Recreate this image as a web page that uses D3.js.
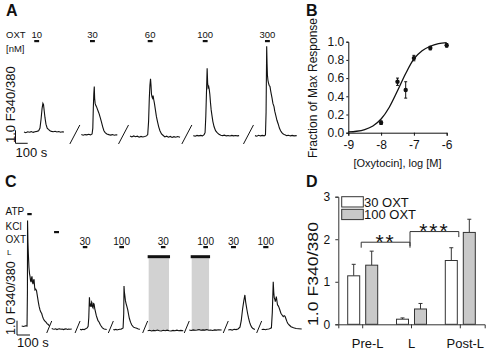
<!DOCTYPE html>
<html>
<head>
<meta charset="utf-8">
<script src="https://cdn.jsdelivr.net/npm/d3@7"></script>
<style>
  body { margin: 0; background: #fff; }
  svg { display: block; font-family: "Liberation Sans", Arial, sans-serif; }
</style>
</head>
<body>
<svg id="fig" width="490" height="351"></svg>
<script>
// ---------- data ----------
// A: calcium traces, [s from segment start, F340/380]
const concA = ["10", "30", "60", "100", "300"];
const segStartA = [0, 470, 869, 1388, 1893];
const stimStartA = [84, 71, 145, 77, 82];
const traceA = [
  [[0,1.0],[15,0.95],[30,1.02],[45,0.98],[60,1.03],[75,0.97],[90,1.02],[105,1.05],[120,1.1],[131,1.3],[140,2.0],[148,2.8],[155,3.2],[160,3.1],[166,2.6],[172,2.1],[180,1.6],[190,1.3],[200,1.2],[213,1.1],[225,1.05],[240,1.02],[255,1.06],[270,1.0],[285,1.04],[300,0.98],[315,1.02],[328,1.0]],
  [[0,0.8],[15,0.75],[30,0.8],[45,0.78],[60,0.82],[75,0.78],[88,0.85],[94,1.3],[98,2.8],[102,3.9],[106,4.5],[109,3.6],[113,3.2],[118,3.05],[124,2.95],[130,2.8],[138,2.6],[146,2.4],[155,2.1],[164,1.8],[175,1.4],[185,1.1],[195,0.95],[209,0.85],[225,0.8],[240,0.76],[255,0.8],[270,0.75],[285,0.79],[295,0.77]],
  [[0,0.7],[15,0.62],[30,0.7],[45,0.64],[60,0.68],[75,0.6],[90,0.66],[105,0.62],[120,0.65],[135,0.7],[145,0.8],[152,1.8],[158,3.6],[163,4.6],[168,5.1],[172,4.6],[176,3.9],[180,3.7],[184,3.6],[189,3.8],[194,3.5],[200,3.2],[208,2.7],[216,2.2],[225,1.8],[235,1.4],[245,1.1],[258,0.85],[270,0.75],[285,0.62],[300,0.68],[315,0.6],[330,0.66],[345,0.58],[360,0.64],[375,0.6],[390,0.65],[410,0.6]],
  [[0,0.72],[15,0.68],[30,0.74],[45,0.7],[60,0.74],[75,0.7],[88,0.8],[96,0.95],[102,2.2],[108,4.2],[113,5.9],[117,4.8],[121,4.4],[126,4.5],[130,4.3],[135,3.9],[140,3.3],[146,2.7],[152,2.3],[160,1.8],[170,1.4],[182,1.1],[195,0.95],[210,0.82],[225,0.75],[240,0.72],[255,0.76],[270,0.7],[285,0.73],[300,0.69],[315,0.74],[330,0.7],[345,0.73],[360,0.7],[375,0.72]],
  [[0,0.72],[15,0.68],[30,0.75],[45,0.7],[60,0.74],[75,0.7],[86,0.78],[91,2.5],[96,7.6],[99,6.3],[102,5.4],[106,5.0],[110,4.8],[116,4.6],[123,4.5],[128,4.2],[134,3.9],[140,3.6],[147,3.2],[156,2.95],[162,2.6],[170,2.3],[180,1.9],[191,1.6],[200,1.3],[210,1.1],[220,0.95],[232,0.85],[245,0.78],[260,0.72],[275,0.75],[290,0.7],[305,0.74],[320,0.7],[342,0.72]]
];

// B: dose response
const logConc = [-8, -7.5, -7.25, -7, -6.5, -6];
const fracMax = [0.11, 0.56, 0.47, 0.82, 0.93, 0.96];
const fracErr = [0.02, 0.04, 0.09, 0.03, 0.02, 0.02];
const fitX = [-9, -8.75, -8.5, -8.25, -8, -7.75, -7.5, -7.25, -7, -6.75, -6.5, -6.25, -6];
const fitY = [0.008, 0.016, 0.035, 0.074, 0.15, 0.28, 0.46, 0.65, 0.81, 0.90, 0.95, 0.978, 0.99];

// C: sequential protocol
const segStartC = [0, 231, 449, 705, 969, 1289, 1589, 1846];
const traceC = [
  [[0,0.63],[15,0.6],[30,0.65],[41,0.63],[44,3],[45,8.0],[48,6.5],[51,5.7],[56,4.7],[60,4.3],[64,4.1],[68,3.8],[72,3.7],[76,4.0],[79,4.1],[83,3.7],[87,3.55],[91,3.8],[95,3.9],[99,3.4],[102,3.15],[108,3.2],[114,3.1],[121,2.7],[128,2.3],[134,2.0],[141,1.75],[147,1.6],[154,1.5],[160,1.3],[166,1.15],[175,1.0],[187,0.9],[195,0.8],[202,0.75],[214,0.63]],
  [[0,0.45],[10,0.42],[20,0.4],[30,0.43],[40,0.38],[50,0.42],[60,0.44],[70,0.4],[80,0.42],[90,0.38],[100,0.41],[110,0.43],[120,0.39],[130,0.42],[140,0.4],[154,0.42]],
  [[0,0.4],[10,0.36],[20,0.4],[31,0.38],[40,0.42],[46,0.45],[55,0.5],[62,0.6],[67,1.2],[72,2.64],[77,2.0],[81,2.1],[85,1.96],[89,2.3],[92,2.24],[96,1.95],[100,1.89],[104,2.2],[108,2.17],[113,1.85],[119,1.6],[125,1.35],[131,1.19],[138,1.0],[146,0.91],[154,0.75],[162,0.63],[172,0.5],[185,0.42],[195,0.4],[205,0.38]],
  [[0,0.38],[10,0.36],[20,0.4],[28,0.35],[40,0.38],[50,0.4],[59,0.4],[68,0.45],[75,0.5],[80,1.5],[82,3.43],[85,3.0],[88,2.8],[93,2.4],[98,2.2],[104,2.0],[111,1.75],[117,1.45],[123,1.17],[132,0.9],[142,0.7],[155,0.55],[168,0.5],[180,0.47],[192,0.42],[205,0.4]],
  [[0,0.3],[15,0.33],[30,0.28],[45,0.32],[60,0.3],[75,0.35],[90,0.3],[105,0.28],[120,0.33],[135,0.3],[150,0.34],[165,0.3],[180,0.28],[195,0.32],[210,0.3],[225,0.34],[240,0.3],[255,0.32],[274,0.3]],
  [[0,0.35],[15,0.32],[30,0.36],[45,0.33],[60,0.35],[75,0.38],[90,0.33],[105,0.36],[120,0.34],[135,0.38],[150,0.33],[165,0.35],[180,0.32],[195,0.36],[210,0.34],[225,0.37],[249,0.35]],
  [[0,0.35],[15,0.38],[30,0.34],[45,0.4],[60,0.38],[75,0.42],[90,0.55],[100,1.0],[110,1.8],[120,2.4],[128,2.8],[134,2.3],[144,1.75],[150,1.45],[156,1.19],[164,0.9],[172,0.7],[180,0.55],[190,0.45],[205,0.38]],
  [[0,0.38],[15,0.4],[30,0.37],[40,0.4],[55,0.42],[65,0.45],[75,0.5],[82,1.6],[89,3.73],[93,3.0],[97,2.6],[101,2.5],[105,2.33],[109,2.5],[113,2.68],[117,2.4],[122,2.1],[127,2.05],[131,1.98],[140,1.75],[148,1.52],[157,1.4],[166,1.28],[173,1.35],[180,1.3],[188,1.1],[194,0.95],[200,0.82],[212,0.7],[226,0.58],[245,0.5],[265,0.45],[285,0.44],[308,0.42]]
];
const stimRowsC = ["ATP", "KCl", "OXT", "L"];
const stimRowC = ["ATP", "KCl", "OXT", "OXT", "OXT", "OXT", "OXT", "OXT", "L", "L"];
const stimSegC = [0, 1, 2, 3, 4, 5, 6, 7, 4, 5];
const stimStartC = [43, 18, 21, 46, 102, 108, 21, 12, 0, 11];
const stimDurC = [34, 38, 35, 36, 35, 36, 38, 40, 172, 149];
const stimLabelC = ["", "", "30", "100", "30", "100", "30", "100", "", ""];

// D: summary bars
const groupsD = ["Pre-L", "L", "Post-L"];
const seriesD = ["30 OXT", "100 OXT"];
const resp30 = [1.14, 0.12, 1.5];
const resp100 = [1.39, 0.36, 2.16];
const err30 = [0.27, 0.03, 0.3];
const err100 = [0.33, 0.13, 0.31];
const sigPairs = [["Pre-L", "L"], ["L", "Post-L"]];
const sigLevel = [1.93, 2.18];
const sigText = ["**", "***"];

// ---------- drawing ----------
const svg = d3.select("#fig");
const ink = "#111";

function panelLetter(t, x, y) {
  svg.append("text").attr("x", x).attr("y", y).text(t)
    .style("font-size", "16px").style("font-weight", "bold").attr("fill", ink);
}
function smallText(g, t, x, y, size, anchor) {
  return g.append("text").attr("x", x).attr("y", y).text(t)
    .attr("text-anchor", anchor || "start").style("font-size", size + "px").attr("fill", ink);
}
function scaleBar(g, x, yb, h, w, label, labelY) {
  g.append("path").attr("d", `M${x},${yb - h}V${yb}H${x + w}`)
    .attr("fill", "none").attr("stroke", ink).attr("stroke-width", 1);
  smallText(g, label, x, labelY, 13);
}

// Panel A
panelLetter("A", 6, 16);
const gA = svg.append("g");
const xA = d3.scaleLinear().domain([0, 2235]).range([24, 296.7]);
const yA = d3.scaleLinear().domain([0, 8]).range([145, 41]);
const stimDurA = 40;

traceA.forEach((seg, i) => {
  const t0 = segStartA[i];
  gA.append("path").datum(seg)
    .attr("d", d3.line().x(d => xA(t0 + d[0])).y(d => yA(d[1])))
    .attr("fill", "none").attr("stroke", ink).attr("stroke-width", 1.1);
  if (i > 0) {
    const cx = xA(t0) - 6.5, cy = yA(0.81);
    gA.append("line").attr("x1", cx - 5).attr("y1", cy + 9.5).attr("x2", cx + 5).attr("y2", cy - 9.5)
      .attr("stroke", ink).attr("stroke-width", 1);
  }
  const bx = xA(t0 + stimStartA[i]), bw = xA(stimDurA) - xA(0);
  gA.append("rect").attr("x", bx).attr("y", 40).attr("width", bw).attr("height", 2.2).attr("fill", ink);
  smallText(gA, concA[i], bx + bw / 2, 37.5, 9.5, "middle");
});
smallText(gA, "OXT", 6, 37.5, 9.5);
smallText(gA, "[nM]", 6, 52, 9.5);
scaleBar(gA, 15.5, 143.3, yA(0) - yA(1), xA(100) - xA(0), "100 s", 157);
gA.append("text").attr("transform", "translate(15,143) rotate(-90)").text("1.0 F340/380")
  .style("font-size", "13px").attr("fill", ink);

// Panel B
panelLetter("B", 306, 16);
const gB = svg.append("g");
const xB = d3.scaleLinear().domain([-9, -6]).range([348.3, 446.7]);
const yB = d3.scaleLinear().domain([0, 1]).range([132.7, 41.7]);
gB.append("g").attr("transform", "translate(0,132.7)")
  .call(d3.axisBottom(xB).tickValues([-9, -8, -7, -6]).tickFormat(d => d).tickSizeOuter(0).tickSize(3).tickPadding(5))
  .call(g => g.selectAll("text").style("font-size", "12px").attr("fill", ink))
  .call(g => g.selectAll("line,path").attr("stroke", ink));
gB.append("g").attr("transform", "translate(348.3,0)")
  .call(d3.axisLeft(yB).ticks(5).tickFormat(d3.format(".1f")).tickSizeOuter(0).tickSize(2).tickPadding(2))
  .call(g => g.selectAll("text").style("font-size", "12px").attr("fill", ink))
  .call(g => g.selectAll("line,path").attr("stroke", ink));
gB.append("path").datum(d3.zip(fitX, fitY))
  .attr("d", d3.line().x(d => xB(d[0])).y(d => yB(d[1])).curve(d3.curveMonotoneX))
  .attr("fill", "none").attr("stroke", ink).attr("stroke-width", 1.3);
logConc.forEach((c, i) => {
  const x = xB(c);
  gB.append("path")
    .attr("d", `M${x - 1.5},${yB(fracMax[i] + fracErr[i])}H${x + 1.5}M${x},${yB(fracMax[i] + fracErr[i])}V${yB(fracMax[i] - fracErr[i])}M${x - 1.5},${yB(fracMax[i] - fracErr[i])}H${x + 1.5}`)
    .attr("stroke", ink).attr("stroke-width", 1).attr("fill", "none");
  gB.append("circle").attr("cx", x).attr("cy", yB(fracMax[i])).attr("r", 2.2).attr("fill", ink);
});
smallText(gB, "[Oxytocin], log [M]", xB(-7.5), 167, 11, "middle");
gB.append("text").attr("transform", "translate(317,88) rotate(-90)").attr("text-anchor", "middle")
  .text("Fraction of Max Response").style("font-size", "12px").attr("fill", ink);

// Panel C
panelLetter("C", 5, 187);
const gC = svg.append("g");
const xC = d3.scaleLinear().domain([0, 2154]).range([21.7, 301.7]);
const yC = d3.scaleLinear().domain([0, 8]).range([335, 220.6]);
const rowY = { ATP: 213, KCl: 231, OXT: 246, L: 255.2 };
const rowTextY = { ATP: 215, KCl: 229.5, OXT: 243, L: 255 };

// gray shading for L applications first
stimRowC.forEach((r, i) => {
  if (r !== "L") return;
  const x0 = xC(segStartC[stimSegC[i]] + stimStartC[i]);
  const x1 = xC(segStartC[stimSegC[i]] + stimStartC[i] + stimDurC[i]);
  gC.append("rect").attr("x", x0 + 1).attr("y", rowY.L + 3).attr("width", x1 - x0 - 2)
    .attr("height", yC(0.3) - rowY.L - 3).attr("fill", "#d2d2d2");
});
traceC.forEach((seg, i) => {
  const t0 = segStartC[i];
  gC.append("path").datum(seg)
    .attr("d", d3.line().x(d => xC(t0 + d[0])).y(d => yC(d[1])))
    .attr("fill", "none").attr("stroke", ink).attr("stroke-width", 1.1);
  if (i > 0) {
    const cx = xC(t0) - 2.5, cy = yC(0.56);
    gC.append("line").attr("x1", cx - 2.5).attr("y1", cy + 6).attr("x2", cx + 2.5).attr("y2", cy - 6)
      .attr("stroke", ink).attr("stroke-width", 1);
  }
});
stimRowC.forEach((r, i) => {
  const x0 = xC(segStartC[stimSegC[i]] + stimStartC[i]);
  const w = xC(stimDurC[i]) - xC(0);
  gC.append("rect").attr("x", x0).attr("y", rowY[r]).attr("width", w)
    .attr("height", r === "L" ? 3 : 2.2).attr("fill", ink);
  if (stimLabelC[i]) smallText(gC, stimLabelC[i], x0 + w / 2, 244.5, 10, "middle");
});
stimRowsC.forEach(r => smallText(gC, r, r === "L" ? 7 : 5.5, rowTextY[r], r === "L" ? 8 : 10));
scaleBar(gC, 17, 335, yC(0) - yC(1), xC(100) - xC(0), "100 s", 346.5);
gC.append("text").attr("transform", "translate(15,335) rotate(-90)").text("1.0 F340/380")
  .style("font-size", "12.5px").attr("fill", ink);

// Panel D
panelLetter("D", 306, 187);
const gD = svg.append("g");
const xD = d3.scaleBand().domain(groupsD).range([338.3, 484.7]);
const xSub = d3.scaleBand().domain(seriesD).range([-15, 15]).paddingInner(0.333);
const yD = d3.scaleLinear().domain([0, 3]).range([324.3, 196.7]);
const fillD = d3.scaleOrdinal().domain(seriesD).range(["#ffffff", "#c9c9c9"]);
const valD = { "30 OXT": resp30, "100 OXT": resp100 };
const errD = { "30 OXT": err30, "100 OXT": err100 };
const barStroke = "#333";

gD.append("g").attr("transform", "translate(0,324.3)")
  .call(d3.axisBottom(xD).tickSizeOuter(0).tickSize(4).tickPadding(10))
  .call(g => g.selectAll("text").style("font-size", "13px").attr("fill", ink).attr("dx", d => d === "L" ? 0 : 5))
  .call(g => g.selectAll("line,path").attr("stroke", barStroke));
gD.append("g").attr("transform", "translate(338.3,0)")
  .call(d3.axisLeft(yD).tickValues([0, 1, 2, 3]).tickFormat(d3.format("d")).tickSizeOuter(0).tickSize(3).tickPadding(5))
  .call(g => g.selectAll("text").style("font-size", "12px").attr("fill", ink))
  .call(g => g.selectAll("line,path").attr("stroke", barStroke));

groupsD.forEach((grp, gi) => {
  const cx = xD(grp) + xD.bandwidth() / 2;
  seriesD.forEach(s => {
    const v = valD[s][gi], e = errD[s][gi];
    const x = cx + xSub(s), w = xSub.bandwidth();
    gD.append("path").attr("d", `M${x + w / 2},${yD(v)}V${yD(v + e)}M${x + w / 2 - 2},${yD(v + e)}H${x + w / 2 + 2}`)
      .attr("stroke", barStroke).attr("stroke-width", 1).attr("fill", "none");
    gD.append("rect").attr("x", x).attr("y", yD(v)).attr("width", w).attr("height", yD(0) - yD(v))
      .attr("fill", fillD(s)).attr("stroke", barStroke).attr("stroke-width", 1);
  });
});

sigPairs.forEach((p, i) => {
  const x0 = xD(p[0]) + xD.bandwidth() / 2 - 1.5;
  const x1 = xD(p[1]) + xD.bandwidth() / 2 - 1.5;
  const y = yD(sigLevel[i]);
  const legL = i === 0 ? 5.5 : 14.5, legR = 5.5;
  gD.append("path").attr("d", `M${x0},${y + legL}V${y}H${x1}V${y + legR}`)
    .attr("fill", "none").attr("stroke", barStroke).attr("stroke-width", 1);
  gD.append("text").attr("x", (x0 + x1) / 2).attr("y", y + 6.5).attr("text-anchor", "middle")
    .text(sigText[i]).style("font-size", "21px").style("letter-spacing", "2px").attr("fill", ink);
});

// legend
seriesD.forEach((s, i) => {
  const y = 196.7 + i * 12.6;
  gD.append("rect").attr("x", 341.7).attr("y", y).attr("width", 21.6).attr("height", 10.3)
    .attr("fill", fillD(s)).attr("stroke", barStroke).attr("stroke-width", 1);
  smallText(gD, s, 364, y + 10, 13);
});
gD.append("text").attr("transform", "translate(318,274) rotate(-90)").attr("text-anchor", "middle")
  .attr("textLength", 104).attr("lengthAdjust", "spacingAndGlyphs")
  .text("1.0 F340/380").style("font-size", "14px").attr("fill", ink);
</script>
</body>
</html>
